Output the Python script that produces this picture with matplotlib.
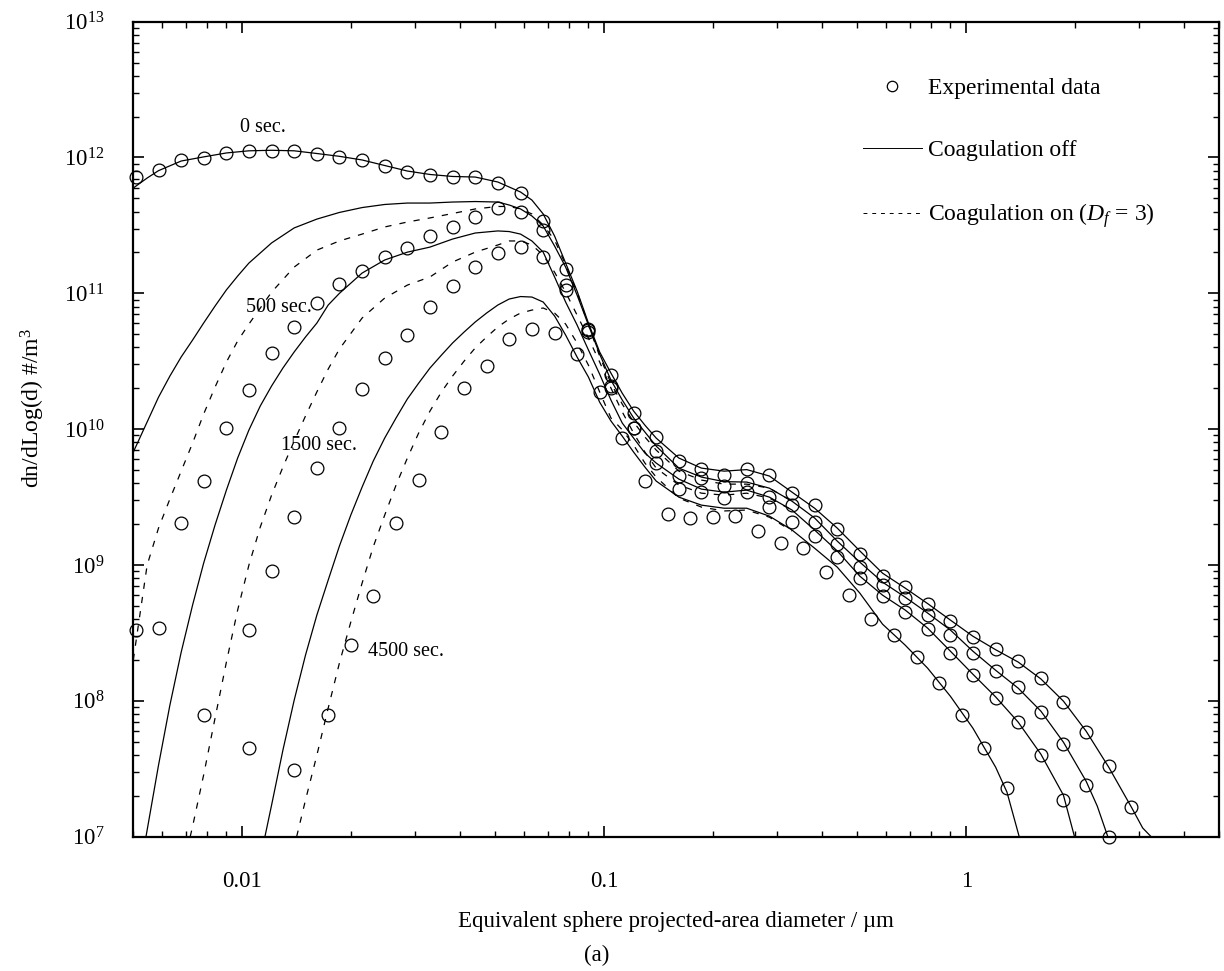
import matplotlib
matplotlib.use("Agg")
import matplotlib.pyplot as plt
from matplotlib.ticker import LogLocator, NullFormatter

plt.rcParams['font.family'] = ['Liberation Serif', 'DejaVu Serif']
plt.rcParams['mathtext.fontset'] = 'custom'
plt.rcParams['mathtext.rm'] = 'Liberation Serif'
plt.rcParams['mathtext.it'] = 'Liberation Serif:italic'

# measurement bins (um), 16 per decade
d_bins = [0.00508, 0.00587, 0.00678, 0.00782, 0.00904, 0.01043, 0.01205, 0.01391, 0.01607,
          0.01855, 0.02143, 0.02474, 0.02858, 0.0330, 0.0381, 0.0440, 0.0508, 0.0587,
          0.0678, 0.0782, 0.0904, 0.1043, 0.1205, 0.1391, 0.1607, 0.1855, 0.2143, 0.2474,
          0.2858, 0.330, 0.381, 0.440, 0.508, 0.587, 0.678, 0.782, 0.904, 1.043, 1.205,
          1.391, 1.607, 1.855, 2.143, 2.474, 2.858]

# experimental data (circles)
exp_0s = [7.18e11, 8.09e11, 9.59e11, 9.92e11, 1.08e12, 1.12e12, 1.12e12, 1.12e12, 1.06e12,
          1.01e12, 9.59e11, 8.66e11, 7.82e11, 7.43e11, 7.18e11, 7.18e11, 6.49e11, 5.48e11,
          3.41e11, 1.51e11, 5.46e10, 2.50e10, 1.31e10, 8.75e9, 5.82e9, 5.08e9, 4.59e9,
          5.08e9, 4.59e9, 3.38e9, 2.76e9, 1.84e9, 1.20e9, 8.28e8, 6.87e8, 5.15e8, 3.86e8,
          2.94e8, 2.40e8, 1.96e8, 1.47e8, 9.78e7, 5.88e7, 3.30e7, 1.65e7]
exp_500s = [3.32e8, 3.43e8, 2.03e9, 4.15e9, 1.02e10, 1.94e10, 3.63e10, 5.65e10, 8.48e10,
            1.17e11, 1.46e11, 1.85e11, 2.16e11, 2.64e11, 3.08e11, 3.65e11, 4.25e11, 3.97e11,
            2.92e11, 1.15e11, 5.37e10, 2.08e10, 1.02e10, 6.90e9, 4.52e9, 4.37e9, 3.81e9,
            4.01e9, 3.16e9, 2.76e9, 2.07e9, 1.43e9, 9.65e8, 7.11e8, 5.71e8, 4.28e8, 3.05e8,
            2.24e8, 1.65e8, 1.26e8, 8.26e7, 4.80e7, 2.39e7, 1.0e7]
d_1500s = [d_bins[3]] + d_bins[5:42]
exp_1500s = [7.85e7, 3.32e8, 9.02e8, 2.25e9, 5.17e9, 1.02e10, 1.97e10, 3.34e10, 4.93e10,
             7.93e10, 1.13e11, 1.56e11, 1.98e11, 2.19e11, 1.85e11, 1.06e11, 5.19e10, 2.01e10,
             1.02e10, 5.63e9, 3.62e9, 3.44e9, 3.11e9, 3.44e9, 2.67e9, 2.07e9, 1.63e9, 1.14e9,
             8.01e8, 5.90e8, 4.50e8, 3.37e8, 2.24e8, 1.55e8, 1.05e8, 6.97e7, 3.98e7, 1.86e7]
d_4500s = [0.01043, 0.01391, 0.01727, 0.01994, 0.0230, 0.0266, 0.0307, 0.0355, 0.0410,
           0.0473, 0.0546, 0.0631, 0.0729, 0.0841, 0.0971, 0.1121, 0.1295, 0.1495, 0.1727,
           0.1994, 0.230, 0.266, 0.307, 0.355, 0.410, 0.473, 0.546, 0.631, 0.729, 0.841,
           0.971, 1.121, 1.295]
exp_4500s = [4.48e7, 3.09e7, 7.85e7, 2.57e8, 5.90e8, 2.03e9, 4.22e9, 9.52e9, 2.01e10,
             2.91e10, 4.61e10, 5.46e10, 5.10e10, 3.57e10, 1.88e10, 8.60e9, 4.15e9, 2.37e9,
             2.22e9, 2.25e9, 2.29e9, 1.78e9, 1.45e9, 1.33e9, 8.87e8, 6.00e8, 4.00e8, 3.05e8,
             2.10e8, 1.35e8, 7.85e7, 4.48e7, 2.28e7]

# simulation, coagulation off (solid)
x_0s = [0.005, 0.00546, 0.00587, 0.00678, 0.00782, 0.00904, 0.01043, 0.01205, 0.01391,
        0.01607, 0.01855, 0.02143, 0.02474, 0.02858, 0.0330, 0.0381, 0.0440, 0.0508, 0.0587,
        0.0631, 0.0678, 0.0729, 0.0782, 0.0841, 0.0904, 0.0971, 0.1043, 0.1121, 0.1205,
        0.1295, 0.1391, 0.1607, 0.1855, 0.2143, 0.2474, 0.2858, 0.330, 0.381, 0.440, 0.508,
        0.587, 0.678, 0.782, 0.904, 1.043, 1.205, 1.391, 1.607, 1.855, 2.143, 2.474, 2.858,
        3.07, 3.24]
off_0s = [5.96e11, 7.06e11, 8.0e11, 9.42e11, 1.01e12, 1.08e12, 1.12e12, 1.13e12, 1.12e12,
          1.07e12, 1.02e12, 9.59e11, 8.73e11, 7.95e11, 7.50e11, 7.25e11, 7.18e11, 6.60e11,
          5.57e11, 4.86e11, 3.84e11, 2.64e11, 1.67e11, 1.04e11, 6.04e10, 3.70e10, 2.59e10,
          1.84e10, 1.36e10, 1.07e10, 8.60e9, 6.13e9, 5.17e9, 4.91e9, 5.04e9, 4.52e9, 3.44e9,
          2.62e9, 1.87e9, 1.27e9, 8.71e8, 6.76e8, 5.20e8, 3.93e8, 2.99e8, 2.38e8, 1.93e8,
          1.45e8, 9.95e7, 5.98e7, 3.25e7, 1.65e7, 1.16e7, 1.0e7]

x_500s = [0.005, 0.00546, 0.00587, 0.00631, 0.00678, 0.00729, 0.00782, 0.00841, 0.00904,
          0.00971, 0.01043, 0.01205, 0.01391, 0.01607, 0.01855, 0.02143, 0.02474, 0.02858,
          0.0330, 0.0381, 0.0440, 0.0508, 0.0546, 0.0587, 0.0631, 0.0678, 0.0729, 0.0782,
          0.0841, 0.0904, 0.0971, 0.1043, 0.1121, 0.1205, 0.1295, 0.1391, 0.1607, 0.1855,
          0.2143, 0.2474, 0.2858, 0.330, 0.381, 0.440, 0.508, 0.587, 0.678, 0.782, 0.904,
          1.043, 1.205, 1.391, 1.607, 1.855, 2.143, 2.30, 2.46]
off_500s = [6.78e9, 1.13e10, 1.72e10, 2.46e10, 3.40e10, 4.53e10, 6.04e10, 8.06e10, 1.06e11,
            1.34e11, 1.67e11, 2.35e11, 3.03e11, 3.52e11, 3.94e11, 4.28e11, 4.51e11, 4.62e11,
            4.62e11, 4.70e11, 4.74e11, 4.70e11, 4.47e11, 4.18e11, 3.71e11, 3.13e11, 2.23e11,
            1.56e11, 9.72e10, 5.85e10, 3.57e10, 2.30e10, 1.64e10, 1.21e10, 9.52e9, 7.51e9,
            5.17e9, 4.44e9, 4.11e9, 4.08e9, 3.68e9, 2.95e9, 2.22e9, 1.50e9, 1.05e9, 7.48e8,
            5.80e8, 4.43e8, 3.32e8, 2.32e8, 1.68e8, 1.24e8, 8.40e7, 4.96e7, 2.56e7, 1.68e7,
            1.0e7]

x_1500s = [0.00542, 0.00587, 0.00631, 0.00678, 0.00729, 0.00782, 0.00841, 0.00904, 0.00971,
           0.01043, 0.01121, 0.01205, 0.01295, 0.01391, 0.01495, 0.01607, 0.01727, 0.01855,
           0.02143, 0.02474, 0.02858, 0.0330, 0.0381, 0.0440, 0.0508, 0.0546, 0.0587, 0.0631,
           0.0678, 0.0729, 0.0782, 0.0841, 0.0904, 0.0971, 0.1043, 0.1121, 0.1205, 0.1295,
           0.1391, 0.1607, 0.1855, 0.2143, 0.2474, 0.2858, 0.330, 0.381, 0.440, 0.508, 0.587,
           0.678, 0.782, 0.904, 1.043, 1.205, 1.391, 1.607, 1.855, 1.99]
off_1500s = [1.0e7, 3.36e7, 9.29e7, 2.28e8, 5.07e8, 1.03e9, 1.97e9, 3.56e9, 6.13e9, 9.85e9,
             1.48e10, 2.08e10, 2.82e10, 3.70e10, 4.77e10, 6.04e10, 8.20e10, 1.00e11, 1.41e11,
             1.76e11, 2.01e11, 2.19e11, 2.51e11, 2.78e11, 2.88e11, 2.85e11, 2.73e11, 2.43e11,
             2.01e11, 1.32e11, 8.63e10, 5.85e10, 3.83e10, 2.54e10, 1.64e10, 1.11e10, 8.60e9,
             6.67e9, 5.63e9, 4.29e9, 3.62e9, 3.44e9, 3.56e9, 3.16e9, 2.54e9, 1.81e9, 1.27e9,
             8.28e8, 6.00e8, 4.66e8, 3.43e8, 2.32e8, 1.57e8, 1.07e8, 6.97e7, 4.05e7, 2.02e7,
             1.0e7]

x_4500s = [0.01155, 0.01205, 0.01295, 0.01391, 0.01495, 0.01607, 0.01727, 0.01855, 0.01994,
           0.02143, 0.0230, 0.02474, 0.0266, 0.02858, 0.0307, 0.0330, 0.0355, 0.0381, 0.0410,
           0.0440, 0.0473, 0.0508, 0.0546, 0.0587, 0.0631, 0.0678, 0.0729, 0.0782, 0.0841,
           0.0904, 0.0971, 0.1043, 0.1121, 0.1205, 0.1295, 0.1391, 0.1607, 0.1855, 0.2143,
           0.2474, 0.2858, 0.330, 0.381, 0.440, 0.508, 0.587, 0.678, 0.782, 0.904, 1.043,
           1.205, 1.295, 1.40]
off_4500s = [1.0e7, 1.71e7, 4.34e7, 1.01e8, 2.17e8, 4.28e8, 7.74e8, 1.38e9, 2.33e9, 3.75e9,
             5.82e9, 8.60e9, 1.21e10, 1.67e10, 2.18e10, 2.82e10, 3.51e10, 4.31e10, 5.19e10,
             6.15e10, 7.16e10, 8.20e10, 9.08e10, 9.47e10, 9.39e10, 8.63e10, 6.81e10, 4.93e10,
             3.40e10, 2.42e10, 1.58e10, 1.15e10, 8.89e9, 6.78e9, 5.26e9, 4.15e9, 3.16e9,
             2.76e9, 2.62e9, 2.62e9, 2.29e9, 1.81e9, 1.33e9, 9.65e8, 6.21e8, 3.67e8, 2.57e8,
             1.74e8, 1.08e8, 6.29e7, 3.25e7, 2.13e7, 1.0e7]

# simulation, coagulation on, Df = 3 (dashed)
xon_500s = x_500s[:42]
on_500s = [2.0e8, 9.98e8, 1.87e9, 3.06e9, 4.91e9, 7.90e9, 1.29e10, 2.04e10, 3.12e10, 4.46e10,
           5.94e10, 1.02e11, 1.56e11, 2.08e11, 2.43e11, 2.73e11, 3.08e11, 3.35e11, 3.59e11,
           3.87e11, 4.18e11, 4.36e11, 4.36e11, 4.18e11, 3.84e11, 3.18e11, 2.47e11, 1.62e11,
           1.02e11, 5.85e10, 3.45e10, 2.18e10, 1.53e10, 1.13e10, 8.75e9, 7.02e9, 4.91e9,
           4.22e9, 3.94e9, 3.94e9, 3.68e9, 2.95e9]
xon_1500s = [0.00718, 0.00729, 0.00782, 0.00841, 0.00904, 0.00971, 0.01043, 0.01121, 0.01205,
             0.01295, 0.01391, 0.01495, 0.01607, 0.01727, 0.01855, 0.02143, 0.02474, 0.02858,
             0.0330, 0.0381, 0.0440, 0.0508, 0.0546, 0.0587, 0.0631, 0.0678, 0.0729, 0.0782,
             0.0841, 0.0904, 0.0971, 0.1043, 0.1121, 0.1205, 0.1295, 0.1391, 0.1607, 0.1855,
             0.2143, 0.2474, 0.2858, 0.330]
on_1500s = [1.0e7, 1.19e7, 2.84e7, 7.46e7, 1.93e8, 4.66e8, 9.98e8, 1.90e9, 3.27e9, 5.26e9,
            8.17e9, 1.25e10, 1.88e10, 2.77e10, 3.89e10, 6.58e10, 9.23e10, 1.15e11, 1.32e11,
            1.70e11, 2.01e11, 2.27e11, 2.43e11, 2.43e11, 2.27e11, 1.91e11, 1.43e11, 1.02e11,
            6.92e10, 4.69e10, 3.12e10, 2.01e10, 1.34e10, 9.36e9, 6.78e9, 5.17e9, 3.88e9,
            3.38e9, 3.27e9, 3.38e9, 3.11e9, 2.54e9]
xon_4500s = [0.01413] + x_4500s[4:42]
on_4500s = [1.0e7, 1.86e7, 3.98e7, 8.84e7, 1.90e8, 3.80e8, 7.36e8, 1.36e9, 2.33e9, 3.88e9,
            6.13e9, 9.36e9, 1.36e10, 1.88e10, 2.46e10, 3.17e10, 3.96e10, 4.77e10, 5.65e10,
            6.47e10, 7.16e10, 7.53e10, 7.80e10, 7.16e10, 5.94e10, 4.31e10, 2.96e10, 1.88e10,
            1.21e10, 9.9e9, 7.64e9, 5.63e9, 4.44e9, 3.11e9, 2.67e9, 2.50e9, 2.54e9, 2.25e9,
            1.78e9]

time_labels = ['0 sec.', '500 sec.', '1500 sec.', '4500 sec.']

fig = plt.figure(figsize=(12.24, 9.71), dpi=100)
ax = fig.add_axes([0.1089, 0.1383, 0.8873, 0.8394])

line_kw = dict(color='black', lw=0.9)
dash_kw = dict(color='black', lw=0.9, linestyle=(0, (5, 6.5)))
circ_kw = dict(linestyle='none', marker='o', ms=9.2, mfc='none', mec='black', mew=0.9,
               clip_on=False)

ax.plot(x_0s, off_0s, **line_kw)
ax.plot(x_500s, off_500s, **line_kw)
ax.plot(x_1500s, off_1500s, **line_kw)
ax.plot(x_4500s, off_4500s, **line_kw)
ax.plot(xon_500s, on_500s, **dash_kw)
ax.plot(xon_1500s, on_1500s, **dash_kw)
ax.plot(xon_4500s, on_4500s, **dash_kw)

ax.plot(d_bins, exp_0s, **circ_kw)
ax.plot(d_bins[:44], exp_500s, **circ_kw)
ax.plot(d_1500s, exp_1500s, **circ_kw)
ax.plot(d_4500s, exp_4500s, **circ_kw)

# time annotations
ax.text(0.01138, 1.65e12, time_labels[0], ha='center', va='center', fontsize=14.5)
ax.text(0.01260, 7.93e10, time_labels[1], ha='center', va='center', fontsize=14.5)
ax.text(0.01633, 7.64e9, time_labels[2], ha='center', va='center', fontsize=14.5)
ax.text(0.02834, 2.30e8, time_labels[3], ha='center', va='center', fontsize=14.5)

ax.set_xscale('log')
ax.set_yscale('log')
ax.set_xlim(0.005, 5)
ax.set_ylim(1e7, 1e13)

ax.set_xticks([0.01, 0.1, 1])
ax.set_xticklabels(['0.01', '0.1', '1'])
ax.set_yticks([10.0 ** k for k in range(7, 14)])
ax.set_yticklabels([r'$10^{%d}$' % k for k in range(7, 14)])
ax.xaxis.set_minor_locator(LogLocator(base=10, subs=range(2, 10), numticks=20))
ax.yaxis.set_minor_locator(LogLocator(base=10, subs=range(2, 10), numticks=20))
ax.xaxis.set_minor_formatter(NullFormatter())
ax.yaxis.set_minor_formatter(NullFormatter())

ax.tick_params(which='both', direction='in', top=True, right=True, labelsize=16.5)
ax.tick_params(which='major', length=8, width=1.2)
ax.tick_params(which='minor', length=4.5, width=1.0)
ax.tick_params(axis='x', which='major', pad=25)
ax.tick_params(axis='y', which='major', pad=21)
for s in ax.spines.values():
    s.set_linewidth(1.6)

ax.set_xlabel('Equivalent sphere projected-area diameter / \u00b5m', fontsize=16.5)
ax.xaxis.set_label_coords(0.5, -0.091)
ax.set_ylabel('dn/dLog(d) #/m$^3$', fontsize=17)
ax.yaxis.set_label_coords(-0.0797, 0.526)

fig.text(597 / 1224, 1 - 955 / 971, '(a)', ha='center', va='center', fontsize=16.5)

# legend
h_exp, = ax.plot([], [], linestyle='none', marker='o', ms=7.5, mfc='none', mec='black', mew=0.9)
h_off, = ax.plot([], [], color='black', lw=0.7)
h_on, = ax.plot([], [], color='black', lw=0.7, linestyle=(0, (4, 5)))
ax.legend([h_exp, h_off, h_on],
          ['Experimental data', 'Coagulation off', r'Coagulation on ($D_f$ = 3)'],
          loc='upper left', bbox_to_anchor=(0.6716, 0.931), frameon=False, fontsize=17,
          handlelength=2.5, handletextpad=0.28, labelspacing=1.71, borderpad=0,
          borderaxespad=0, numpoints=1)

fig.savefig('out.png', dpi=100)
